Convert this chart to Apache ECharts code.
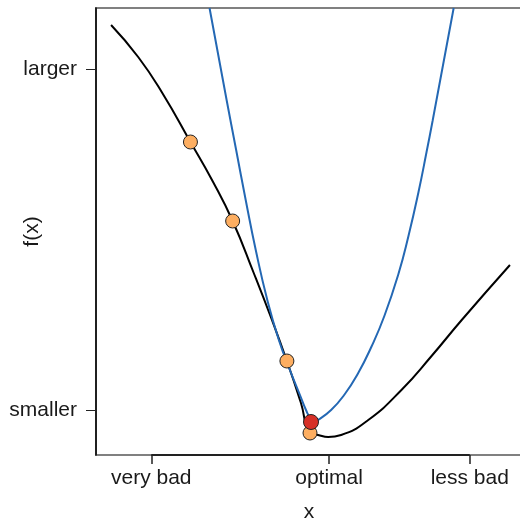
<!DOCTYPE html>
<html>
<head>
<meta charset="utf-8">
<script src="https://cdn.jsdelivr.net/npm/echarts@6/dist/echarts.min.js"></script>
<style>
  html, body { margin: 0; padding: 0; background: #fff; }
  #chart { width: 520px; height: 523px; }
</style>
</head>
<body>
<div id="chart"></div>
<script>
// axis ticks (plot units: x 0..424, y 0..447)
const xTickValues = [55, 232, 372];
const xTickLabels = ['very bad', 'optimal', 'less bad'];
const yTickValues = [45, 386];
const yTickLabels = ['smaller', 'larger'];

// black curve f(x)
const fX = [15, 42, 66, 94, 116, 136, 157, 174, 190, 204, 213, 221, 231, 244, 271, 304, 334, 364, 412];
const fY = [430, 398, 362, 313, 274, 234, 182, 138, 94, 52, 22, 20, 18, 20, 35, 65, 99, 135, 190];

// blue quadratic approximation
const qX = [113, 130, 139.5, 149, 159, 170.5, 182, 193, 203, 209, 214, 218, 221, 234, 247, 261, 274, 287, 301, 311, 321, 329, 335, 356];
const qY = [447, 355, 305, 255, 205, 155, 115, 85, 60, 45, 36, 34, 35, 45, 60, 82, 108, 139, 181, 219, 263, 303, 334, 447];

// iterates (orange) and current point (red)
const iterX = [94, 136, 190, 213];
const iterY = [313, 234, 94, 22];
const currentX = [214];
const currentY = [33];

const zip = (xs, ys) => xs.map((x, i) => [x, ys[i]]);

const chart = echarts.init(document.getElementById('chart'));
const font = 'Liberation Sans, Arial, sans-serif';

const option = {
  animation: false,
  grid: {
    left: 96, right: -2, top: 8, bottom: 68,
    outerBoundsMode: 'none',
    containLabel: false,
    show: true,
    borderColor: '#808080',
    borderWidth: 2,
    backgroundColor: 'transparent'
  },
  xAxis: {
    type: 'value',
    min: 0,
    max: 424,
    name: 'x',
    nameLocation: 'middle',
    nameGap: 47,
    nameMoveOverlap: false,
    nameTextStyle: { color: '#1a1a1a', fontSize: 21, fontFamily: font },
    axisLine: { show: false },
    splitLine: { show: false },
    axisTick: {
      show: true,
      length: 9,
      customValues: xTickValues,
      lineStyle: { color: '#222', width: 1.5 }
    },
    axisLabel: {
      customValues: xTickValues,
      margin: 13,
      color: '#1a1a1a',
      fontSize: 21,
      fontFamily: font,
      formatter: (v) => xTickLabels[xTickValues.indexOf(v)]
    }
  },
  yAxis: {
    type: 'value',
    min: 0,
    max: 447,
    name: 'f(x)',
    nameLocation: 'middle',
    nameGap: 53,
    nameRotate: 90,
    nameMoveOverlap: false,
    nameTextStyle: { color: '#1a1a1a', fontSize: 21, fontFamily: font },
    axisLine: { show: true, lineStyle: { color: '#000', width: 1.5 } },
    splitLine: { show: false },
    axisTick: {
      show: true,
      length: 10,
      customValues: yTickValues,
      lineStyle: { color: '#222', width: 1 }
    },
    axisLabel: {
      customValues: yTickValues,
      margin: 19,
      color: '#1a1a1a',
      fontSize: 21,
      fontFamily: font,
      formatter: (v) => yTickLabels[yTickValues.indexOf(v)]
    }
  },
  series: [
    {
      type: 'line',
      data: zip(fX, fY),
      smooth: true,
      showSymbol: false,
      lineStyle: { color: '#000', width: 2 },
      z: 2,
      markLine: {
        silent: true,
        symbol: 'none',
        label: { show: false },
        lineStyle: { color: '#222', width: 2, type: 'solid' },
        data: [[
          { coord: [xTickValues[0], 0] },
          { coord: [xTickValues[xTickValues.length - 1], 0] }
        ]]
      }
    },
    {
      type: 'line',
      data: zip(qX, qY),
      smooth: true,
      showSymbol: false,
      lineStyle: { color: '#2468b4', width: 2 },
      z: 3
    },
    {
      type: 'scatter',
      data: zip(iterX, iterY),
      symbolSize: 14,
      itemStyle: { color: '#fdae61', borderColor: '#222', borderWidth: 1, opacity: 1 },
      z: 4
    },
    {
      type: 'scatter',
      data: zip(currentX, currentY),
      symbolSize: 15,
      itemStyle: { color: '#d73027', borderColor: '#222', borderWidth: 1, opacity: 1 },
      z: 5
    }
  ]
};

chart.setOption(option);
</script>
</body>
</html>
